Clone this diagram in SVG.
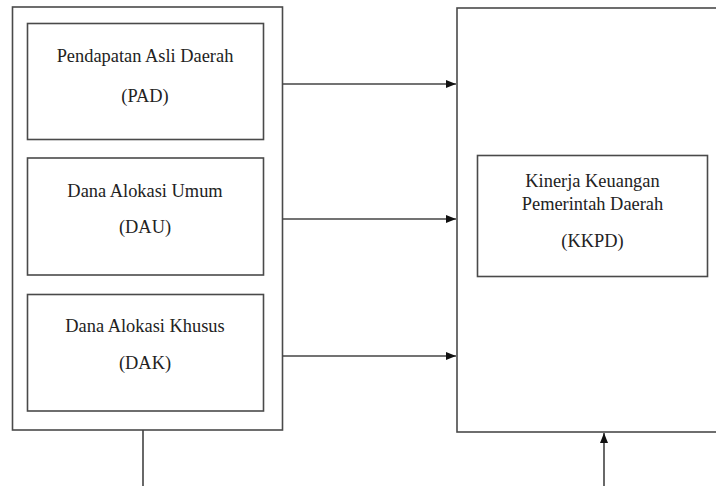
<svg xmlns="http://www.w3.org/2000/svg" width="716" height="486" viewBox="0 0 716 486">
<style>
.box{fill:#fff;stroke:#4a4a4a;stroke-width:1.6}
.t{font-family:"Liberation Serif","Times New Roman",serif;font-size:18.4px;fill:#222;text-anchor:middle}
.c{fill:none;stroke:#444;stroke-width:1.6}
</style>
<defs>
<marker id="ah" markerUnits="userSpaceOnUse" markerWidth="10" markerHeight="10" viewBox="0 0 10 10" refX="10" refY="5" orient="auto">
<path d="M0,1 L10,5 L0,9 Z" fill="#111"/>
</marker>
</defs>
<rect width="716" height="486" fill="#fff"/>
<g id="group-left"><rect class="box" x="12.5" y="7" width="270" height="423"/></g>
<g id="node-right"><rect class="box" x="457" y="8" width="262" height="424"/></g>
<g id="node-pad">
<rect class="box" x="27.5" y="23.5" width="236" height="116"/>
<text class="t" x="145" y="62">Pendapatan Asli Daerah</text>
<text class="t" x="145" y="102">(PAD)</text>
</g>
<g id="node-dau">
<rect class="box" x="27.5" y="158" width="236" height="117"/>
<text class="t" x="145" y="197">Dana Alokasi Umum</text>
<text class="t" x="145" y="233">(DAU)</text>
</g>
<g id="node-dak">
<rect class="box" x="27.5" y="294.5" width="236" height="116.5"/>
<text class="t" x="145" y="332">Dana Alokasi Khusus</text>
<text class="t" x="145" y="369">(DAK)</text>
</g>
<g id="node-kkpd">
<rect class="box" x="477.5" y="155.5" width="230" height="121"/>
<text class="t" x="592.5" y="187">Kinerja Keuangan</text>
<text class="t" x="592.5" y="210">Pemerintah Daerah</text>
<text class="t" x="592.5" y="247">(KKPD)</text>
</g>
<g id="connectors">
<line class="c" x1="282.5" y1="84" x2="456" y2="84" marker-end="url(#ah)"/>
<line class="c" x1="282.5" y1="219" x2="456" y2="219" marker-end="url(#ah)"/>
<line class="c" x1="282.5" y1="356" x2="456" y2="356" marker-end="url(#ah)"/>
<path class="c" d="M143,430 V487.2 H604 V433" marker-end="url(#ah)"/>
</g>
</svg>
